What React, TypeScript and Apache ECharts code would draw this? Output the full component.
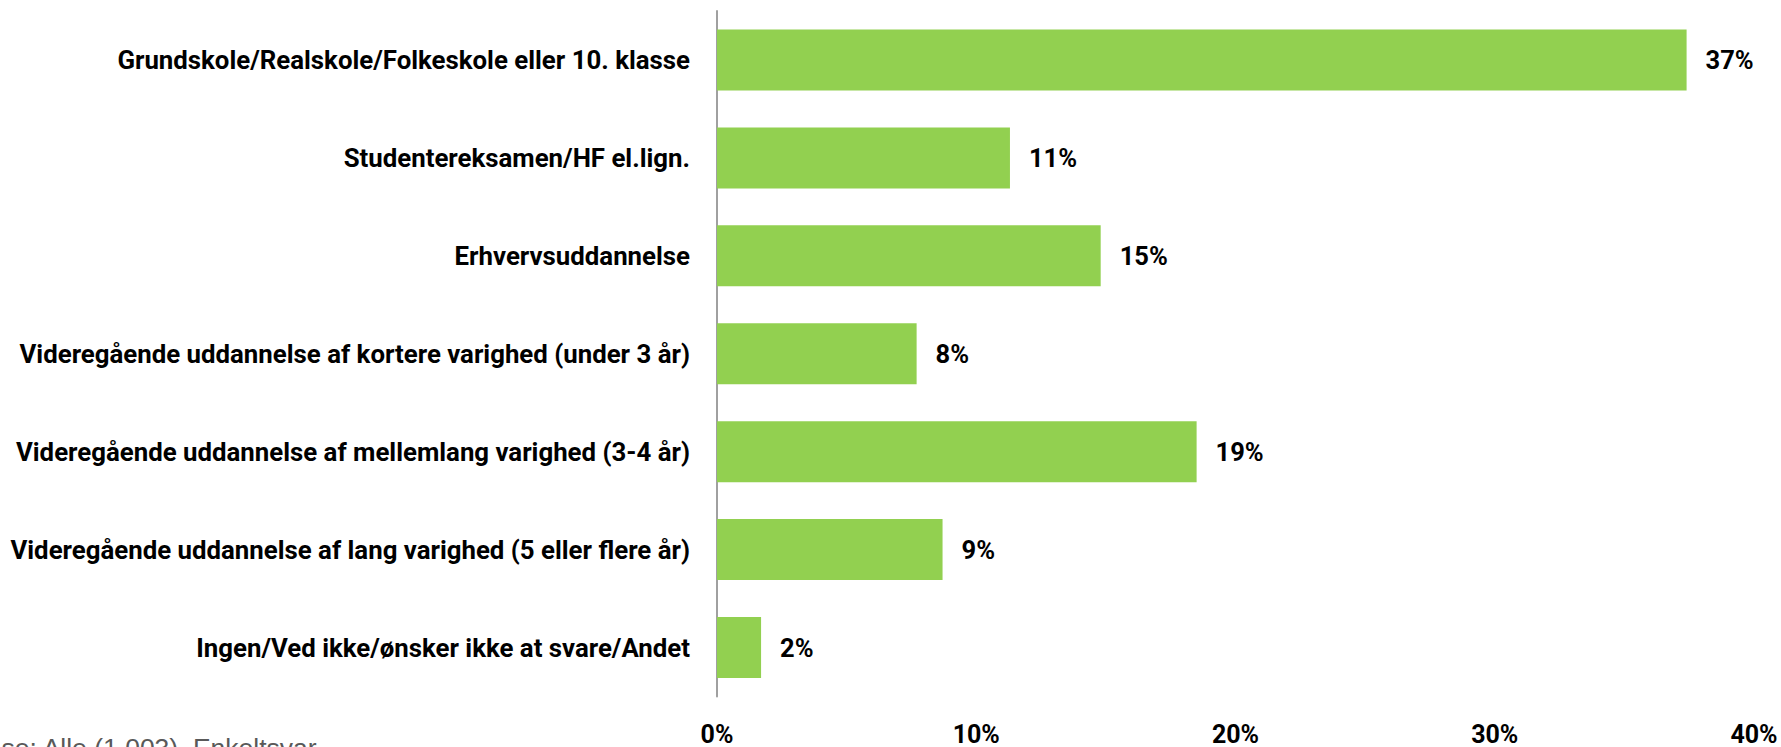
import React, { useEffect, useRef } from "react";
import * as echarts from "echarts";

const categories = [
  "Grundskole/Realskole/Folkeskole eller 10. klasse",
  "Studentereksamen/HF el.lign.",
  "Erhvervsuddannelse",
  "Videregående uddannelse af kortere varighed (under 3 år)",
  "Videregående uddannelse af mellemlang varighed (3-4 år)",
  "Videregående uddannelse af lang varighed (5 eller flere år)",
  "Ingen/Ved ikke/ønsker ikke at svare/Andet",
];
const values = [37.4, 11.3, 14.8, 7.7, 18.5, 8.7, 1.7];
const valueLabels = ["37%", "11%", "15%", "8%", "19%", "9%", "2%"];
const footnote = "Base: Alle (1.003). Enkeltsvar";

const FONT = "Roboto, 'Noto Sans', sans-serif";

export default function App() {
  const ref = useRef<HTMLDivElement>(null);
  useEffect(() => {
    document.body.style.margin = "0";
    const chart = echarts.init(ref.current!, null, { renderer: "svg" });
    chart.setOption({
      animation: false,
      backgroundColor: "#ffffff",
      grid: { left: 717, right: 27, top: 11, bottom: 47, containLabel: false },
      xAxis: {
        type: "value",
        min: 0,
        max: 40,
        interval: 10,
        axisLine: { show: false },
        axisTick: { show: false },
        splitLine: { show: false },
        axisLabel: {
          formatter: "{value}%",
          color: "#000000",
          fontFamily: FONT,
          fontWeight: "bold",
          fontSize: 25,
          lineHeight: 20,
          margin: 28,
        },
      },
      yAxis: {
        type: "category",
        inverse: true,
        data: categories,
        axisLine: { show: true, lineStyle: { color: "#a0a0a0", width: 2 } },
        axisTick: { show: false },
        axisLabel: {
          color: "#000000",
          fontFamily: FONT,
          fontWeight: "bold",
          fontSize: 25.8,
          margin: 27,
        },
      },
      series: [
        {
          type: "bar",
          data: values,
          barWidth: 61,
          itemStyle: { color: "#92d050" },
          label: {
            show: true,
            position: "right",
            distance: 19,
            color: "#000000",
            fontFamily: FONT,
            fontWeight: "bold",
            fontSize: 25.5,
            formatter: (p: any) => valueLabels[p.dataIndex],
          },
        },
      ],
      graphic: [
        {
          type: "text",
          left: -31,
          top: 734,
          style: {
            text: footnote,
            fill: "#595959",
            font: "26.5px 'Liberation Sans', Arial, sans-serif",
          },
        },
      ],
    });
    return () => chart.dispose();
  }, []);
  return (
    <div
      ref={ref}
      style={{ position: "fixed", left: 0, top: 0, width: 1781, height: 747 }}
    />
  );
}
